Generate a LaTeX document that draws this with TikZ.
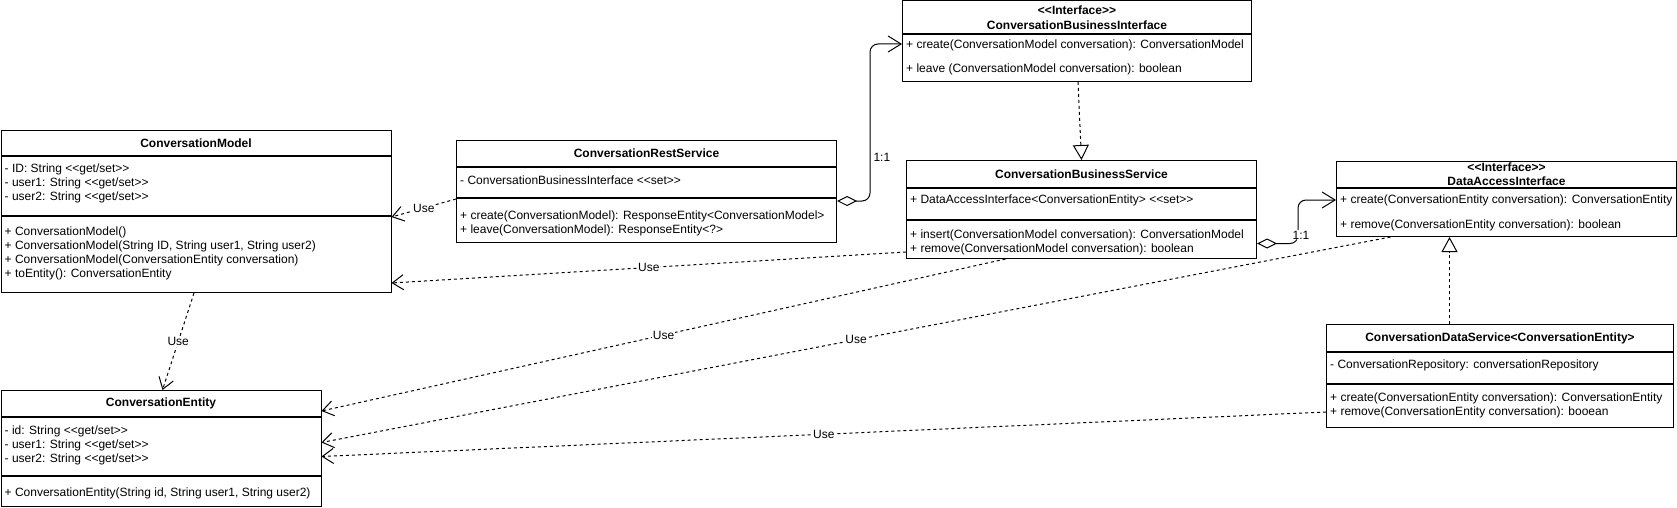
\documentclass[tikz,border=0pt]{standalone}
\usepackage{fontspec}
\setmainfont{Liberation Sans}
\usetikzlibrary{arrows.meta, positioning}
\newcommand{\stereo}[1]{\mbox{<}\mbox{<}#1\mbox{>}\mbox{>}}

\begin{document}
\begin{tikzpicture}[
  x=1pt, y=-1pt,
  font=\fontsize{12}{14}\selectfont,
  umlbox/.style={draw, fill=white, anchor=north west, inner sep=0pt, line width=1pt},
  umlhead/.style={umlbox, font=\fontsize{12}{14}\selectfont\bfseries, align=center},
  memb/.style={anchor=north west, align=left, inner sep=0pt},
  dep/.style={draw, line width=1pt, dash pattern=on 3pt off 3pt,
              -{Straight Barb[length=11pt, width=15pt]}},
  real/.style={draw, line width=1pt, dash pattern=on 3pt off 3pt,
               -{Triangle[open, length=15pt, width=16pt]}},
  aggr/.style={draw, line width=1pt, rounded corners=8pt,
               {Diamond[open, length=20pt, width=10pt]}-{Straight Barb[length=13pt, width=16pt]}},
  lbl/.style={fill=white, inner sep=1pt},
]
\useasboundingbox (0,0) rectangle (1677,508);

% classes
\node[umlhead, minimum width=390, minimum height=25] (cmH) at (0.5,130) {ConversationModel};
\node[umlbox, minimum width=390, minimum height=59] (cmA) at (cmH.south west) {};
\node[umlbox, minimum width=390, minimum height=76] (cmM) at (cmA.south west) {};
\node[memb] (cmAt) at ([xshift=4pt, yshift=-8pt]cmA.north west)
  {- ID: String \stereo{get/set}\\- user1: String \stereo{get/set}\\- user2: String \stereo{get/set}};
\node[memb] (cmMt) at ([xshift=4pt, yshift=-11pt]cmM.north west)
  {+ ConversationModel()\\+ ConversationModel(String ID, String user1, String user2)\\
   + ConversationModel(ConversationEntity conversation)\\+ toEntity(): ConversationEntity};

\node[umlhead, minimum width=320, minimum height=26] (ceH) at (0.5,390) {ConversationEntity};
\node[umlbox, minimum width=320, minimum height=58] (ceA) at (ceH.south west) {};
\node[umlbox, minimum width=320, minimum height=30] (ceM) at (ceA.south west) {};
\node[memb] (ceAt) at ([xshift=4pt, yshift=-9pt]ceA.north west)
  {- id: String \stereo{get/set}\\- user1: String \stereo{get/set}\\- user2: String \stereo{get/set}};
\node[memb] (ceMt) at ([xshift=4pt, yshift=-12pt]ceM.north west)
  {+ ConversationEntity(String id, String user1, String user2)};

\node[umlhead, minimum width=380, minimum height=26] (rsH) at (456,140) {ConversationRestService};
\node[umlbox, minimum width=380, minimum height=30] (rsA) at (rsH.south west) {};
\node[umlbox, minimum width=380, minimum height=44] (rsM) at (rsA.south west) {};
\node[memb] (rsAt) at ([xshift=4pt, yshift=-9pt]rsA.north west)
  {- ConversationBusinessInterface \stereo{set}};
\node[memb] (rsMt) at ([xshift=4pt, yshift=-13pt]rsM.north west)
  {+ create(ConversationModel): ResponseEntity<ConversationModel>\\+ leave(ConversationModel): ResponseEntity<?>};

\node[umlhead, minimum width=349, minimum height=32.5] (biH) at (902,0.5)
  {\stereo{Interface}\\[1pt]ConversationBusinessInterface};
\node[umlbox, minimum width=349, minimum height=47] (biM) at (biH.south west) {};
\node[memb] (biMt) at ([xshift=4pt, yshift=-6pt]biM.north west)
  {+ create(ConversationModel conversation): ConversationModel\\[10pt]
   + leave (ConversationModel conversation): boolean};

\node[umlhead, minimum width=350, minimum height=27] (bsH) at (906,160) {ConversationBusinessService};
\node[umlbox, minimum width=350, minimum height=31] (bsA) at (bsH.south west) {};
\node[umlbox, minimum width=350, minimum height=38] (bsM) at (bsA.south west) {};
\node[memb] (bsAt) at ([xshift=4pt, yshift=-7pt]bsA.north west)
  {+ DataAccessInterface<ConversationEntity> \stereo{set}};
\node[memb] (bsMt) at ([xshift=4pt, yshift=-10pt]bsM.north west)
  {+ insert(ConversationModel conversation): ConversationModel\\+ remove(ConversationModel conversation): boolean};

\node[umlhead, minimum width=340, minimum height=26] (daiH) at (1336,161)
  {\stereo{Interface}\\DataAccessInterface};
\node[umlbox, minimum width=340, minimum height=48] (daiM) at (daiH.south west) {};
\node[memb] (daiMt) at ([xshift=4pt, yshift=-7pt]daiM.north west)
  {+ create(ConversationEntity conversation): ConversationEntity\\[11pt]
   + remove(ConversationEntity conversation): boolean};

\node[umlhead, minimum width=347, minimum height=27] (dsH) at (1326,324)
  {ConversationDataService<ConversationEntity>};
\node[umlbox, minimum width=347, minimum height=31] (dsA) at (dsH.south west) {};
\node[umlbox, minimum width=347, minimum height=43] (dsM) at (dsA.south west) {};
\node[memb] (dsAt) at ([xshift=4pt, yshift=-8pt]dsA.north west)
  {- ConversationRepository: conversationRepository};
\node[memb] (dsMt) at ([xshift=4pt, yshift=-9pt]dsM.north west)
  {+ create(ConversationEntity conversation): ConversationEntity\\+ remove(ConversationEntity conversation): booean};

% relations
\draw[dep] ([yshift=-1pt]rsM.north west) -- ([yshift=-1pt]cmM.north east) node[lbl, midway] (u1) {Use};
\draw[dep] ([yshift=7pt]bsM.south west) -- ([yshift=10pt]cmM.south east) node[lbl, midway] (u2) {Use};
\draw[dep] ([xshift=-76pt]bsM.south) -- ([yshift=6pt]ceH.south east) node[lbl, midway] (u3) {Use};
\draw[dep] ([xshift=-116pt]daiM.south) -- ([yshift=4pt]ceA.east) node[lbl, midway] (u4) {Use};
\draw[dep] ([yshift=-6pt]dsM.west) -- ([yshift=-10pt]ceA.east) node[lbl, midway] (u5) {Use};
\draw[dep] ([xshift=-2pt]cmM.south) -- ([xshift=1.5pt]ceH.north) node[lbl, midway] (u6) {Use};

\draw[real] ([xshift=1pt]biM.south) -- (bsH.north);
\draw[real] ([xshift=-50.5pt]dsH.north) -- ([xshift=-57pt]daiM.south);

\draw[aggr] ([yshift=-3pt]rsM.north east) -- ++(33,0)
  |- ([yshift=-10pt]biM.north west) node[pos=0.14, right, inner sep=3pt] (m1) {1:1};
\draw[aggr] ([yshift=-4pt]bsM.east) -- ++(41,0) node[lbl, above, pos=1, xshift=3pt, yshift=3pt] (m2) {1:1}
  |- ([yshift=-12pt]daiM.north west);
\end{tikzpicture}
\end{document}
